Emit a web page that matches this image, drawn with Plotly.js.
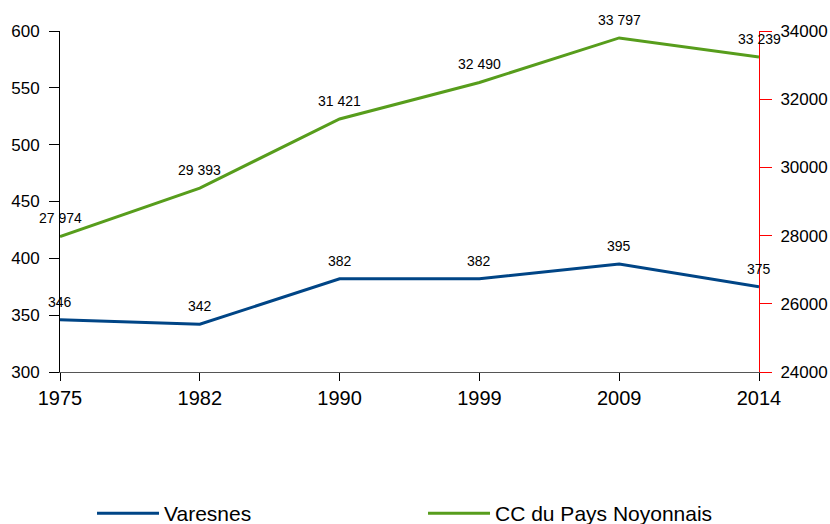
<!DOCTYPE html>
<html>
<head>
<meta charset="utf-8">
<script src="https://cdn.plot.ly/plotly-3.0.1.min.js"></script>
<style>html,body{margin:0;padding:0;background:#fff;}#chart{width:830px;height:524px;}</style>
</head>
<body>
<div id="chart"></div>
<script>
var years = ["1975", "1982", "1990", "1999", "2009", "2014"];
var varesnes = [346, 342, 382, 382, 395, 375];
var ccNoyonnais = [27974, 29393, 31421, 32490, 33797, 33239];
var seriesNames = ["Varesnes", "CC du Pays Noyonnais"];

var FONT = "Liberation Sans, Arial, sans-serif";

function fmt(v) {
  return String(v).replace(/\B(?=(\d{3})+(?!\d))/g, " ");
}

var traces = [
  {
    x: years, y: varesnes, name: seriesNames[0], type: "scatter", mode: "lines",
    line: {color: "#004586", width: 3}, hoverinfo: "x+y"
  },
  {
    x: years, y: ccNoyonnais, name: seriesNames[1], type: "scatter", mode: "lines",
    yaxis: "y2",
    line: {color: "#579d1c", width: 3}, hoverinfo: "x+y"
  }
];

var annotations = [];
function addLabels(vals, yref) {
  for (var i = 0; i < years.length; i++) {
    annotations.push({
      x: i, y: vals[i], xref: "x", yref: yref,
      text: fmt(vals[i]), showarrow: false,
      xanchor: "center", yanchor: "bottom", yshift: 8,
      font: {family: FONT, size: 14, color: "#000"}
    });
  }
}
addLabels(varesnes, "y");
addLabels(ccNoyonnais, "y2");

var layout = {
  width: 830, height: 524,
  margin: {l: 60, r: 71, t: 31, b: 152, pad: 0},
  paper_bgcolor: "#fff", plot_bgcolor: "#fff",
  font: {family: FONT, size: 17, color: "#000"},
  showlegend: true,
  legend: {
    orientation: "h", x: 0.0458, y: 0.02, xref: "paper", yref: "container",
    xanchor: "left", yanchor: "middle",
    font: {family: FONT, size: 21, color: "#000"},
    entrywidth: 254, entrywidthmode: "pixels", itemwidth: 62,
    bgcolor: "rgba(0,0,0,0)"
  },
  annotations: annotations,
  xaxis: {
    type: "category", range: [0, 5],
    showgrid: false, zeroline: false,
    showline: true, linecolor: "#555", linewidth: 1,
    ticks: "outside", ticklen: 8, tickcolor: "#000",
    tickfont: {family: FONT, size: 20, color: "#000"},
    automargin: false
  },
  yaxis: {
    range: [300, 600], dtick: 50,
    showgrid: false, zeroline: false,
    showline: true, linecolor: "#000", linewidth: 1,
    ticks: "outside", ticklen: 10, tickcolor: "#000",
    ticklabelstandoff: 6,
    tickfont: {family: FONT, size: 17, color: "#000"},
    automargin: false
  },
  yaxis2: {
    overlaying: "y", side: "right",
    range: [24000, 34000], dtick: 2000, tickformat: "d",
    showgrid: false, zeroline: false,
    showline: true, linecolor: "#ff0000", linewidth: 1,
    ticks: "outside", ticklen: 12, tickcolor: "#ff0000",
    ticklabelstandoff: 5,
    tickfont: {family: FONT, size: 17, color: "#000"},
    automargin: false
  }
};

Plotly.newPlot("chart", traces, layout, {displayModeBar: false, staticPlot: true});
</script>
</body>
</html>
